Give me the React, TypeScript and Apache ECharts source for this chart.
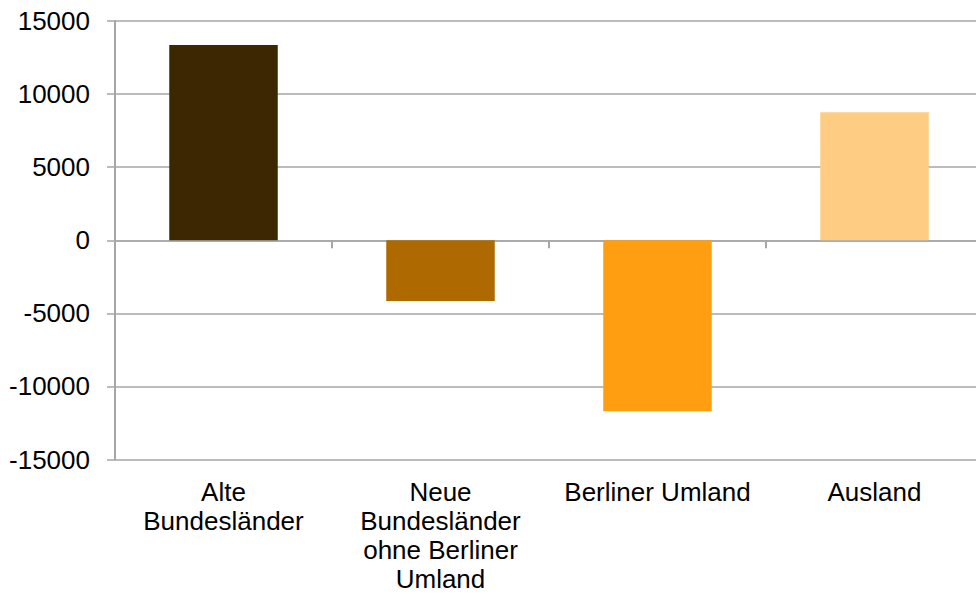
import React, { useEffect, useRef } from "react";
import * as echarts from "echarts";

const categories = [
  "Alte Bundesländer",
  "Neue Bundesländer ohne Berliner Umland",
  "Berliner Umland",
  "Ausland",
];
const categoryLabels = [
  "Alte\nBundesländer",
  "Neue\nBundesländer\nohne Berliner\nUmland",
  "Berliner Umland",
  "Ausland",
];
const values = [13350, -4150, -11700, 8750];
const barColors = ["#3d2602", "#ae6a00", "#fe9e10", "#ffcc84"];
const yMin = -15000;
const yMax = 15000;
const yInterval = 5000;

const FONT = "'Liberation Sans', Arial, sans-serif";
const GRID_COLOR = "#a6a6a6";

export default function App() {
  const ref = useRef<HTMLDivElement>(null);
  useEffect(() => {
    if (!ref.current) return;
    const chart = echarts.init(ref.current, undefined, { renderer: "svg" });
    const labelMap: Record<string, string> = {};
    categories.forEach((c, i) => (labelMap[c] = categoryLabels[i]));
    chart.setOption({
      animation: false,
      backgroundColor: "#ffffff",
      grid: {
        left: 115,
        right: -7,
        top: 21,
        bottom: 134.5,
        containLabel: false,
        outerBoundsMode: "none",
      },
      xAxis: [
        {
          type: "category",
          data: categories,
          position: "bottom",
          axisLine: { show: true, onZero: true, lineStyle: { color: GRID_COLOR, width: 1.5 } },
          axisTick: {
            show: true,
            interval: 0,
            length: 8,
            inside: false,
            lineStyle: { color: GRID_COLOR, width: 2 },
          },
          axisLabel: { show: false, interval: 0 },
          splitLine: { show: false },
        },
        {
          type: "category",
          data: categories,
          position: "bottom",
          axisLine: { show: false, onZero: false },
          axisTick: { show: false },
          splitLine: { show: false },
          axisLabel: {
            show: true,
            interval: 0,
            margin: 18,
            color: "#000000",
            fontFamily: FONT,
            fontSize: 26,
            lineHeight: 29,
            align: "center",
            formatter: (v: string) => labelMap[v] ?? v,
          },
        },
      ],
      yAxis: {
        type: "value",
        min: yMin,
        max: yMax,
        interval: yInterval,
        axisLine: { show: true, lineStyle: { color: GRID_COLOR, width: 2 } },
        axisTick: { show: true, length: 8, inside: false, lineStyle: { color: GRID_COLOR, width: 1.5 } },
        splitLine: { show: true, lineStyle: { color: GRID_COLOR, width: 1.5 } },
        axisLabel: {
          margin: 25,
          color: "#000000",
          fontFamily: FONT,
          fontSize: 26,
          formatter: (v: number) => String(v),
        },
      },
      series: [
        {
          type: "bar",
          xAxisIndex: 0,
          barWidth: "50%",
          data: values.map((v, i) => ({ value: v, itemStyle: { color: barColors[i] } })),
        },
      ],
    });
    return () => chart.dispose();
  }, []);
  return (
    <div
      ref={ref}
      style={{ position: "absolute", left: 0, top: 0, width: 976, height: 594 }}
    />
  );
}
